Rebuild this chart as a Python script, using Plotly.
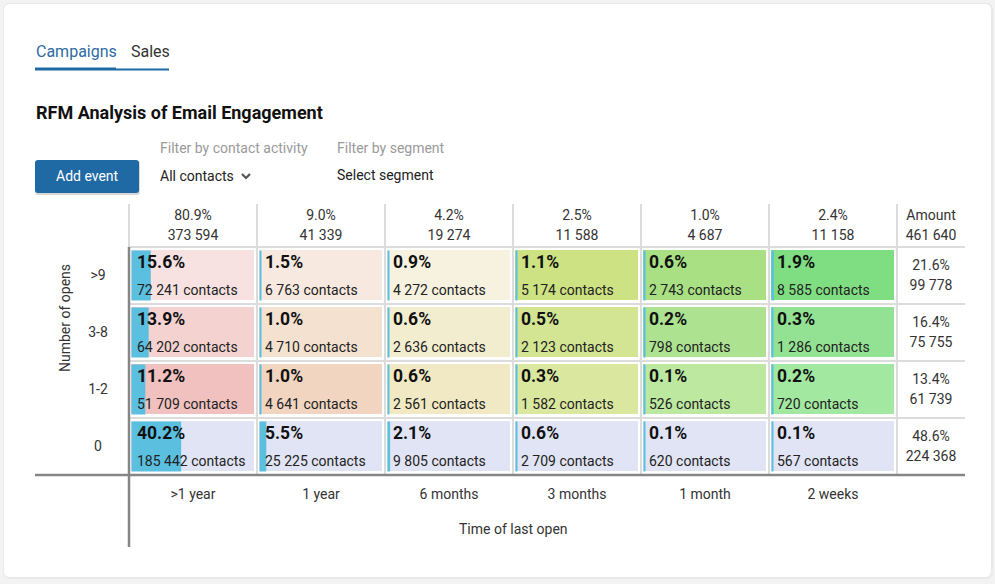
import plotly.graph_objects as go

# ---------------- data ----------------
col_labels = [">1 year", "1 year", "6 months", "3 months", "1 month", "2 weeks"]
row_labels = ["0", "1-2", "3-8", ">9"]          # bottom -> top
col_pct = ["80.9%", "9.0%", "4.2%", "2.5%", "1.0%", "2.4%"]
col_total = ["373 594", "41 339", "19 274", "11 588", "4 687", "11 158"]
amount_total = "461 640"
row_pct = ["48.6%", "13.4%", "16.4%", "21.6%"]
row_total = ["224 368", "61 739", "75 755", "99 778"]

cell_pct = [
    [40.2, 5.5, 2.1, 0.6, 0.1, 0.1],
    [11.2, 1.0, 0.6, 0.3, 0.1, 0.2],
    [13.9, 1.0, 0.6, 0.5, 0.2, 0.3],
    [15.6, 1.5, 0.9, 1.1, 0.6, 1.9],
]
cell_contacts = [
    [185442, 25225, 9805, 2709, 620, 567],
    [51709, 4641, 2561, 1582, 526, 720],
    [64202, 4710, 2636, 2123, 798, 1286],
    [72241, 6763, 4272, 5174, 2743, 8585],
]

# ---------------- style ----------------
cell_colors = [
    ['#e1e4f4'] * 6,
    ['#f0c1bf', '#f1d5c1', '#f1e9c3', '#dae89f', '#bde8a0', '#a2e8a0'],
    ['#f4d2d0', '#f4e1d0', '#f3edd0', '#d3e592', '#ace290', '#93e193'],
    ['#f7e2e1', '#f7e9e0', '#f6f2df', '#cde283', '#a8e083', '#80de82'],
]
FONT = "Roboto"
BLUE = "#1f6aa5"
BAR = "#5bbfe0"
TXT = "#333333"
SM = 14

ML, MR, MT, MB = 35, 30, 204, 37
FW, FH = 995, 584
W, H = FW - ML - MR, FH - MT - MB
PXX, PXY = 128.0, 57.0          # px per data unit
x0 = -0.5 - (129 - ML) / PXX
x1 = x0 + W / PXX
y0 = -0.5 - (547 - 475) / PXY
y1 = y0 + H / PXY

def fmt(n):
    return f"{n:,}".replace(",", " ")

def px2x(px):
    return (px - ML) / W

def py2y(py):
    return 1 - (py - MT) / H

nr, nc = len(row_labels), len(col_labels)
fig = go.Figure()

# cell backgrounds (heatmap with gaps)
flat = [c for row in cell_colors for c in row]
n = len(flat)
cs = []
for i, c in enumerate(flat):
    cs.append([i / n, c])
    cs.append([(i + 1) / n, c])
z = [[r * nc + c + 0.5 for c in range(nc)] for r in range(nr)]
fig.add_trace(go.Heatmap(
    z=z, x=list(range(nc)), y=list(range(nr)), colorscale=cs, zmin=0, zmax=n,
    xgap=5, ygap=7, showscale=False, hoverinfo="skip"))

# blue share bars
bx, by, bb = [], [], []
for r in range(nr):
    for c in range(nc):
        by.append(r)
        bb.append(c - 0.5 + 2.5 / PXX)
        bx.append(max(2.0, cell_pct[r][c] * 1.235) / PXX)
fig.add_trace(go.Bar(x=bx, y=by, base=bb, orientation="h", width=50 / PXY,
                     marker=dict(color=BAR, line=dict(width=0)), hoverinfo="skip"))

# cell texts
tx, ty1, ty2, t1, t2 = [], [], [], [], []
for r in range(nr):
    for c in range(nc):
        tx.append(c - 0.5 + 8 / PXX)
        ty1.append(r + 11.5 / PXY)
        ty2.append(r - 15.5 / PXY)
        t1.append(f"<b>{cell_pct[r][c]:.1f}%</b>")
        t2.append(f"{fmt(cell_contacts[r][c])} contacts")
fig.add_trace(go.Scatter(x=tx, y=ty1, text=t1, mode="text", textposition="middle right",
                         textfont=dict(family=FONT, size=17.5, color="#111111"), hoverinfo="skip"))
fig.add_trace(go.Scatter(x=tx, y=ty2, text=t2, mode="text", textposition="middle right",
                         textfont=dict(family=FONT, size=14, color="#222222"), hoverinfo="skip"))

# header texts (column totals + amount)
amt_x = 5.5 + 34 / PXX
hy1 = 3.5 + (247 - 216.5) / PXY
hy2 = 3.5 + (247 - 236.5) / PXY
fig.add_trace(go.Scatter(x=list(range(nc)) + [amt_x], y=[hy1] * (nc + 1),
                         text=col_pct + ["Amount"], mode="text", textposition="middle center",
                         textfont=dict(family=FONT, size=SM, color=TXT), hoverinfo="skip"))
fig.add_trace(go.Scatter(x=list(range(nc)) + [amt_x], y=[hy2] * (nc + 1),
                         text=col_total + [amount_total], mode="text", textposition="middle center",
                         textfont=dict(family=FONT, size=SM, color=TXT), hoverinfo="skip"))
# row amounts
fig.add_trace(go.Scatter(x=[amt_x] * nr, y=[r + 9.5 / PXY for r in range(nr)],
                         text=row_pct, mode="text", textposition="middle center",
                         textfont=dict(family=FONT, size=SM, color=TXT), hoverinfo="skip"))
fig.add_trace(go.Scatter(x=[amt_x] * nr, y=[r - 10.5 / PXY for r in range(nr)],
                         text=row_total, mode="text", textposition="middle center",
                         textfont=dict(family=FONT, size=SM, color=TXT), hoverinfo="skip"))
# row labels
fig.add_trace(go.Scatter(x=[-0.5 - 31 / PXX] * nr, y=[r - 0.5 / PXY for r in range(nr)],
                         text=row_labels, mode="text", textposition="middle center",
                         textfont=dict(family=FONT, size=SM, color=TXT), hoverinfo="skip"))
# column labels
fig.add_trace(go.Scatter(x=list(range(nc)), y=[-0.5 - 20 / PXY] * nc,
                         text=col_labels, mode="text", textposition="middle center",
                         textfont=dict(family=FONT, size=SM, color=TXT), hoverinfo="skip"))

# ---------------- shapes ----------------
shapes = []

def rrect(xa, ya, xb, yb, rad, color, layer="below"):
    rx, ry = rad / W, rad / H
    X0, X1 = px2x(xa), px2x(xb)
    Y0, Y1 = py2y(yb), py2y(ya)
    p = (f"M {X0+rx},{Y1} L {X1-rx},{Y1} Q {X1},{Y1} {X1},{Y1-ry} "
         f"L {X1},{Y0+ry} Q {X1},{Y0} {X1-rx},{Y0} L {X0+rx},{Y0} "
         f"Q {X0},{Y0} {X0},{Y0+ry} L {X0},{Y1-ry} Q {X0},{Y1} {X0+rx},{Y1} Z")
    return dict(type="path", path=p, xref="paper", yref="paper", fillcolor=color,
                line=dict(width=0), layer=layer)

# card with soft shadow
shapes.append(rrect(3, 3, 993, 579, 7, "#e9e9e9"))
shapes.append(rrect(4, 4, 991, 577, 6, "#ffffff"))

GRID = "#dcdcdc"
# vertical grid lines
for k in range(nc + 1):
    xv = k - 0.5
    shapes.append(dict(type="line", xref="x", yref="y", x0=xv, x1=xv, y0=-0.5, y1=y1,
                       line=dict(color=GRID, width=2), layer="below"))
# horizontal grid lines
for k in range(nr):
    yv = k + 0.5
    shapes.append(dict(type="line", xref="x", yref="y", x0=-0.5, x1=x1, y0=yv, y1=yv,
                       line=dict(color=GRID, width=2), layer="below"))
# thick axes
AX = "#868686"
shapes.append(dict(type="line", xref="x", yref="y", x0=-0.5, x1=-0.5, y0=y0, y1=nr - 0.5,
                   line=dict(color=AX, width=2.5)))
shapes.append(dict(type="line", xref="x", yref="y", x0=x0, x1=x1, y0=-0.5, y1=-0.5,
                   line=dict(color=AX, width=2.5)))

# tabs underline
shapes.append(dict(type="rect", xref="paper", yref="paper", x0=px2x(35), x1=px2x(116),
                   y0=py2y(70.5), y1=py2y(67.5), fillcolor=BLUE, line=dict(width=0)))
shapes.append(dict(type="rect", xref="paper", yref="paper", x0=px2x(116), x1=px2x(169),
                   y0=py2y(70.5), y1=py2y(68.5), fillcolor=BLUE, line=dict(width=0)))
# button
shapes.append(rrect(35, 161, 140, 195, 3, "#d8d8d8", layer="above"))
shapes.append(rrect(35, 160, 139, 193, 3, BLUE, layer="above"))
# chevron
shapes.append(dict(type="path", xref="paper", yref="paper",
                   path=f"M {px2x(242)},{py2y(174)} L {px2x(246)},{py2y(178)} L {px2x(250)},{py2y(174)}",
                   line=dict(color="#555555", width=2.2)))

# ---------------- annotations ----------------
ann = []

def a_px(text, px, py, size, color, xanchor="left", bold=False, angle=0):
    ann.append(dict(text=f"<b>{text}</b>" if bold else text, x=px2x(px), y=py2y(py),
                    xref="paper", yref="paper", xanchor=xanchor, yanchor="middle",
                    showarrow=False, textangle=angle,
                    font=dict(family=FONT, size=size, color=color)))

a_px("Campaigns", 34, 51, 16, "#2e6aa3")
a_px("Sales", 129, 51, 16, "#333333")
a_px("RFM Analysis of Email Engagement", 34, 113, 18, "#111111", bold=True)
a_px("Filter by contact activity", 158, 147.5, 14, "#9a9a9a")
a_px("Filter by segment", 335, 147.5, 14, "#9a9a9a")
a_px("Add event", 87, 176, 14, "#ffffff", xanchor="center")
a_px("All contacts", 158, 176, 14, "#222222")
a_px("Select segment", 335, 175, 14, "#222222")

ann.append(dict(text="Number of opens", x=-0.5 - 64 / PXX, y=(475 - 318) / PXY - 0.5,
                xref="x", yref="y", showarrow=False, textangle=-90,
                font=dict(family=FONT, size=SM, color=TXT)))
ann.append(dict(text="Time of last open", x=(nc - 1) / 2, y=-0.5 - 53.5 / PXY,
                xref="x", yref="y", showarrow=False,
                font=dict(family=FONT, size=SM, color=TXT)))

fig.update_layout(
    width=FW, height=FH, margin=dict(l=ML, r=MR, t=MT, b=MB, pad=0),
    paper_bgcolor="#f3f3f3", plot_bgcolor="rgba(0,0,0,0)",
    showlegend=False, hovermode=False, barmode="overlay",
    xaxis=dict(range=[x0, x1], visible=False, fixedrange=True),
    yaxis=dict(range=[y0, y1], visible=False, fixedrange=True),
    shapes=shapes, annotations=ann,
    font=dict(family=FONT),
)

fig.write_html("out.html", config={"displayModeBar": False})
